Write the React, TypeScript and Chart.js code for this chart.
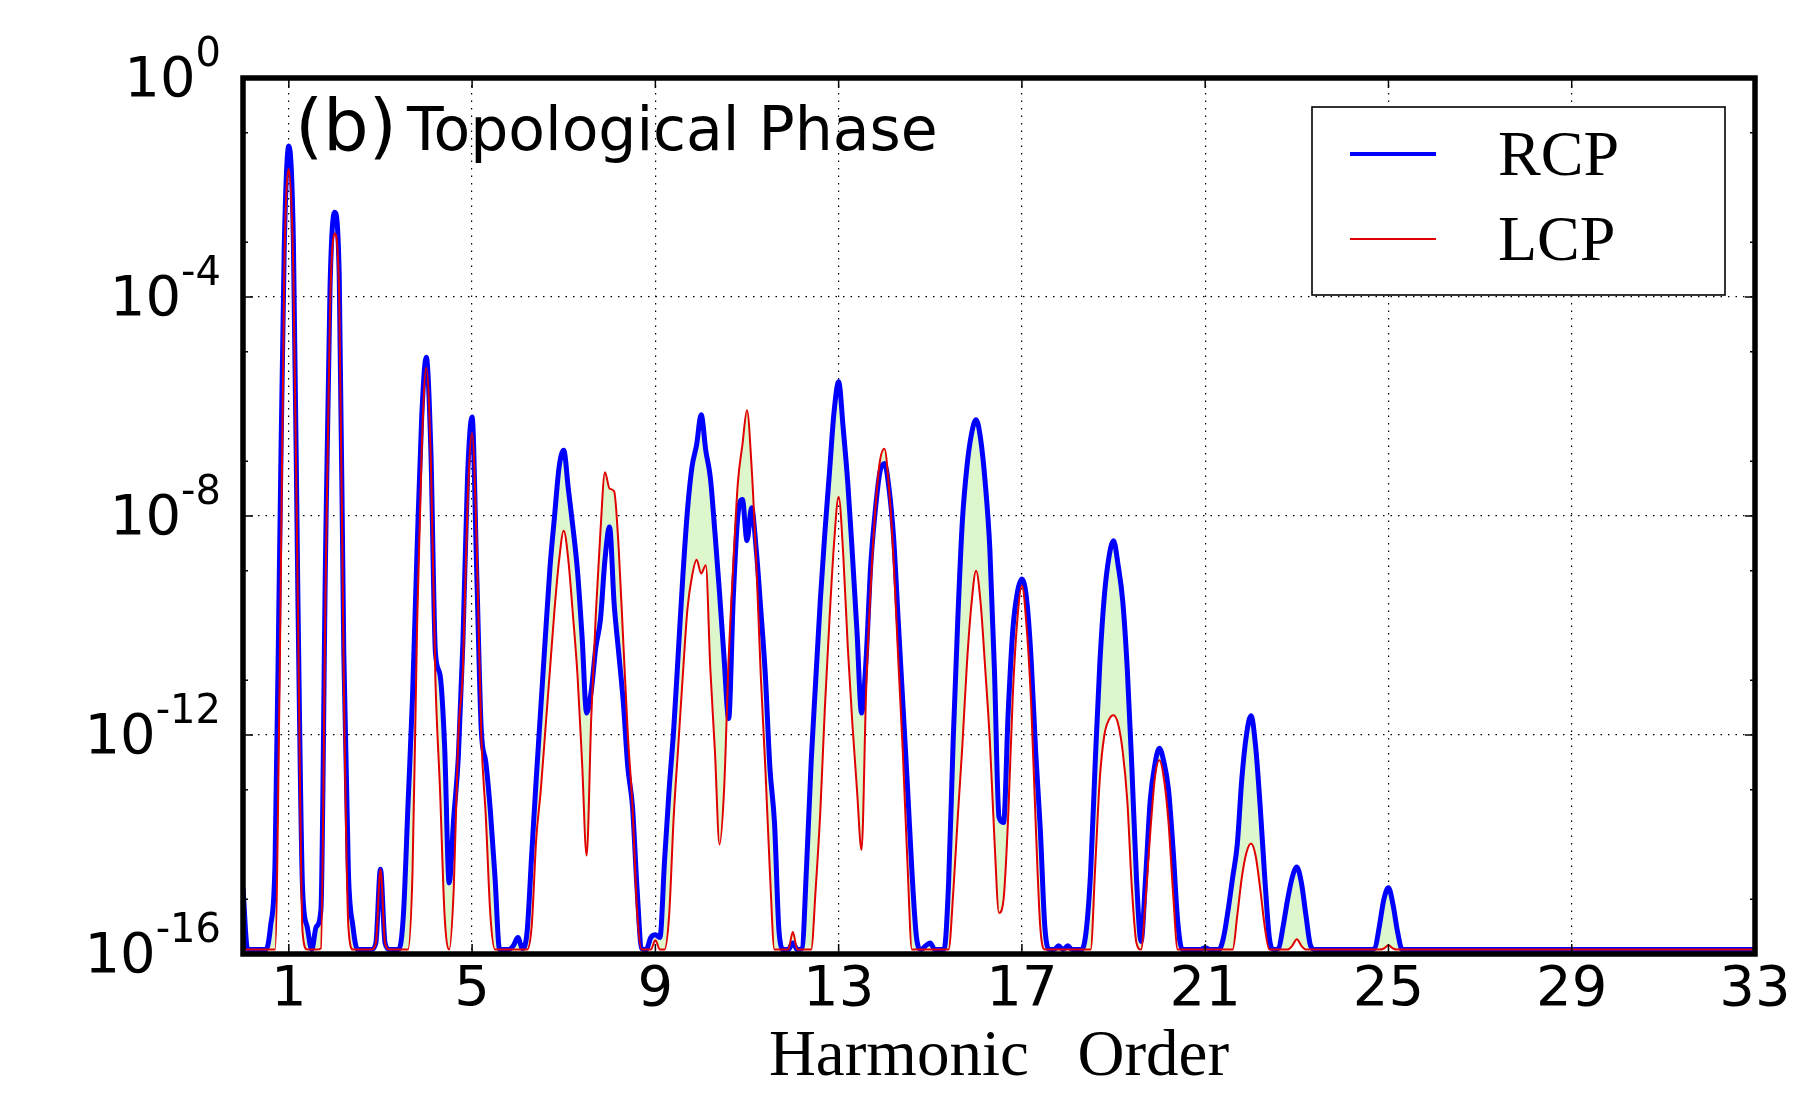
import React, { useEffect, useRef } from "react";
import { Chart, registerables } from "chart.js";

Chart.register(...registerables);

// Harmonic order sampling positions (shared by both series)
const harmonicOrder = [
  0.0, 0.1, 0.2, 0.3, 0.4, 0.5, 0.6, 0.7, 0.8, 0.9,
  1.0, 1.1, 1.2, 1.3, 1.4, 1.5, 1.6, 1.7, 1.8, 1.9,
  2.0, 2.1, 2.2, 2.3, 2.4, 2.5, 2.6, 2.7, 2.8, 2.9,
  3.0, 3.1, 3.2, 3.3, 3.4, 3.5, 3.6, 3.7, 3.8, 3.9,
  4.0, 4.1, 4.2, 4.3, 4.4, 4.5, 4.6, 4.7, 4.8, 4.9,
  5.0, 5.1, 5.2, 5.3, 5.4, 5.5, 5.6, 5.7, 5.8, 5.9,
  6.0, 6.1, 6.2, 6.3, 6.4, 6.5, 6.6, 6.7, 6.8, 6.9,
  7.0, 7.1, 7.2, 7.3, 7.4, 7.5, 7.6, 7.7, 7.8, 7.9,
  8.0, 8.1, 8.2, 8.3, 8.4, 8.5, 8.6, 8.7, 8.8, 8.9,
  9.0, 9.1, 9.2, 9.3, 9.4, 9.5, 9.6, 9.7, 9.8, 9.9,
  10.0, 10.1, 10.2, 10.3, 10.4, 10.5, 10.6, 10.7, 10.8, 10.9,
  11.0, 11.1, 11.2, 11.3, 11.4, 11.5, 11.6, 11.7, 11.8, 11.9,
  12.0, 12.1, 12.2, 12.3, 12.4, 12.5, 12.6, 12.7, 12.8, 12.9,
  13.0, 13.1, 13.2, 13.3, 13.4, 13.5, 13.6, 13.7, 13.8, 13.9,
  14.0, 14.1, 14.2, 14.3, 14.4, 14.5, 14.6, 14.7, 14.8, 14.9,
  15.0, 15.1, 15.2, 15.3, 15.4, 15.5, 15.6, 15.7, 15.8, 15.9,
  16.0, 16.1, 16.2, 16.3, 16.4, 16.5, 16.6, 16.7, 16.8, 16.9,
  17.0, 17.1, 17.2, 17.3, 17.4, 17.5, 17.6, 17.7, 17.8, 17.9,
  18.0, 18.1, 18.2, 18.3, 18.4, 18.5, 18.6, 18.7, 18.8, 18.9,
  19.0, 19.1, 19.2, 19.3, 19.4, 19.5, 19.6, 19.7, 19.8, 19.9,
  20.0, 20.1, 20.2, 20.3, 20.4, 20.5, 20.6, 20.7, 20.8, 20.9,
  21.0, 21.1, 21.2, 21.3, 21.4, 21.5, 21.6, 21.7, 21.8, 21.9,
  22.0, 22.1, 22.2, 22.3, 22.4, 22.5, 22.6, 22.7, 22.8, 22.9,
  23.0, 23.1, 23.2, 23.3, 23.4, 23.5, 23.6, 23.7, 23.8, 23.9,
  24.0, 24.1, 24.2, 24.3, 24.4, 24.5, 24.6, 24.7, 24.8, 24.9,
  25.0, 25.1, 25.2, 25.3, 25.4, 25.5, 25.6, 25.7, 25.8, 25.9,
  26.0, 27.0, 28.0, 29.0, 30.0, 31.0, 32.0, 33.0,
];

// log10 of the RCP harmonic intensity
const rcpLog10 = [
  -14.8, -15.92, -15.92, -15.92, -15.92, -15.92, -15.5, -14.3, -8.6, -3.1,
  -1.24, -3.0, -9.6, -14.8, -15.5, -15.92, -15.5, -15.2, -8.8, -3.8,
  -2.45, -3.6, -10.5, -14.5, -15.5, -15.92, -15.92, -15.92, -15.92, -15.8,
  -14.45, -15.8, -15.92, -15.92, -15.92, -15.3, -13.3, -11.3, -8.6, -6.2,
  -5.1, -6.8, -10.5, -10.9, -12.2, -14.7, -13.5, -12.4, -10.3, -7.3,
  -6.19, -9.0, -11.9, -12.5, -13.4, -14.6, -15.92, -15.92, -15.92, -15.85,
  -15.7, -15.9, -15.6, -14.2, -12.8, -11.5, -10.2, -8.94, -8.0, -7.1,
  -6.8, -7.5, -8.2, -9.0, -10.2, -11.6, -11.2, -10.4, -9.9, -8.8,
  -8.2, -9.6, -10.5, -11.4, -12.6, -13.3, -14.8, -15.9, -15.92, -15.7,
  -15.65, -15.7, -14.3, -13.0, -11.9, -10.5, -9.1, -7.9, -7.1, -6.7,
  -6.15, -6.8, -7.3, -8.3, -9.4, -10.6, -11.7, -9.5, -8.0, -7.7,
  -8.45, -7.85, -8.6, -9.7, -10.9, -12.6, -13.6, -15.6, -15.92, -15.92,
  -15.8, -15.92, -15.9, -14.4, -12.5, -11.0, -9.54, -8.3, -7.2, -6.1,
  -5.55, -6.4, -7.4, -8.7, -10.1, -11.6, -10.6, -8.9, -7.9, -7.2,
  -7.04, -7.5, -8.4, -9.9, -11.4, -12.9, -14.5, -15.7, -15.92, -15.85,
  -15.8, -15.92, -15.92, -15.92, -14.7, -12.1, -9.9, -8.1, -7.1, -6.5,
  -6.24, -6.6, -7.4, -8.6, -10.8, -13.5, -13.6, -11.6, -10.1, -9.4,
  -9.15, -9.5, -10.6, -12.3, -13.7, -15.5, -15.92, -15.92, -15.85, -15.92,
  -15.85, -15.92, -15.92, -15.92, -15.6, -14.5, -12.5, -10.7, -9.45, -8.75,
  -8.45, -8.9, -9.55, -10.8, -12.6, -14.6, -15.77, -14.6, -13.2, -12.55,
  -12.24, -12.5, -13.0, -14.1, -15.4, -15.92, -15.92, -15.92, -15.92, -15.92,
  -15.88, -15.92, -15.92, -15.92, -15.7, -15.2, -14.6, -14.0, -12.8, -12.0,
  -11.65, -12.2, -13.3, -14.6, -15.7, -15.92, -15.9, -15.5, -15.0, -14.6,
  -14.41, -14.7, -15.3, -15.85, -15.92, -15.92, -15.92, -15.92, -15.92, -15.92,
  -15.92, -15.92, -15.92, -15.92, -15.92, -15.92, -15.92, -15.9, -15.5, -15.0,
  -14.79, -15.1, -15.6, -15.92, -15.92, -15.92, -15.92, -15.92, -15.92, -15.92,
  -15.92, -15.92, -15.92, -15.92, -15.92, -15.92, -15.92, -15.92,
];

// log10 of the LCP harmonic intensity
const lcpLog10 = [
  -15.92, -15.92, -15.92, -15.92, -15.92, -15.92, -15.92, -15.92, -11.0, -3.6,
  -1.66, -3.6, -9.8, -15.6, -15.92, -15.92, -15.92, -15.9, -9.5, -4.2,
  -2.84, -4.0, -11.0, -15.5, -15.92, -15.92, -15.92, -15.92, -15.92, -15.8,
  -14.45, -15.8, -15.92, -15.92, -15.92, -15.92, -15.92, -14.5, -10.0, -6.8,
  -5.29, -7.0, -11.0, -13.0, -15.3, -15.92, -14.8, -12.0, -10.8, -7.8,
  -6.49, -8.5, -12.0, -13.5, -15.3, -15.92, -15.92, -15.92, -15.92, -15.92,
  -15.92, -15.92, -15.92, -15.5, -13.9, -13.0, -11.9, -10.8, -9.7, -8.8,
  -8.27, -8.8, -9.8, -10.9, -12.5, -14.2, -11.7, -9.8, -8.3, -7.2,
  -7.5, -7.55, -8.6, -10.3, -12.0, -13.3, -15.2, -15.92, -15.92, -15.92,
  -15.75, -15.92, -15.92, -15.3, -13.5, -12.2, -10.9, -9.7, -9.1, -8.8,
  -9.05, -8.9, -10.8, -12.3, -14.0, -13.0, -10.6, -8.9, -7.4, -6.7,
  -6.07, -7.1, -8.8, -10.9, -12.6, -14.5, -15.92, -15.92, -15.92, -15.92,
  -15.6, -15.92, -15.92, -15.92, -15.92, -14.8, -13.4, -11.5, -9.9, -8.5,
  -7.65, -8.7, -10.4, -11.8, -13.0, -14.1, -11.2, -9.3, -7.9, -7.0,
  -6.77, -7.5, -8.8, -10.6, -12.3, -14.3, -15.92, -15.92, -15.92, -15.92,
  -15.92, -15.92, -15.92, -15.92, -15.92, -14.9, -13.5, -12.2, -10.7, -9.6,
  -9.0, -9.6, -10.8, -12.1, -13.9, -15.25, -15.0, -13.5, -11.3, -9.9,
  -9.27, -10.0, -11.4, -13.6, -15.5, -15.92, -15.92, -15.92, -15.92, -15.92,
  -15.92, -15.92, -15.92, -15.92, -15.92, -15.92, -14.4, -12.8, -12.0, -11.72,
  -11.64, -11.8, -12.3, -13.2, -14.8, -15.8, -15.92, -15.0, -13.8, -12.8,
  -12.46, -12.8, -13.6, -14.9, -15.92, -15.92, -15.92, -15.92, -15.92, -15.92,
  -15.92, -15.92, -15.92, -15.92, -15.92, -15.92, -15.92, -15.3, -14.6, -14.15,
  -13.98, -14.2, -14.8, -15.5, -15.92, -15.92, -15.92, -15.92, -15.92, -15.85,
  -15.73, -15.85, -15.92, -15.92, -15.92, -15.92, -15.92, -15.92, -15.92, -15.92,
  -15.92, -15.92, -15.92, -15.92, -15.92, -15.92, -15.92, -15.92, -15.92, -15.9,
  -15.84, -15.9, -15.92, -15.92, -15.92, -15.92, -15.92, -15.92, -15.92, -15.92,
  -15.92, -15.92, -15.92, -15.92, -15.92, -15.92, -15.92, -15.92,
];

const seriesLabels = ["RCP", "LCP"];
const xTickValues = [1, 5, 9, 13, 17, 21, 25, 29, 33];
const yTickExponents = [0, -4, -8, -12, -16];
const yMinorExponents = [-1, -3, -5, -7, -9, -11, -13, -15];
const panelLabel = "(b)";
const panelTitle = "Topological Phase";
const xAxisTitle = "Harmonic   Order";

const BLUE = "#0000ff";
const RED = "#e00000";
const FILL = "#ddf6cc";

const framePlugin = {
  id: "frameAndText",
  afterDraw(chart: any) {
    const { ctx, chartArea: a, scales } = chart;
    const xs = scales.x;
    const ys = scales.y;
    ctx.save();

    // inward tick marks on all four sides
    ctx.strokeStyle = "#000";
    ctx.lineWidth = 1.5;
    ctx.beginPath();
    for (const t of xTickValues) {
      const px = xs.getPixelForValue(t);
      ctx.moveTo(px, a.bottom);
      ctx.lineTo(px, a.bottom - 10);
      ctx.moveTo(px, a.top);
      ctx.lineTo(px, a.top + 10);
    }
    for (const e of yTickExponents) {
      const py = ys.getPixelForValue(Math.pow(10, e));
      ctx.moveTo(a.left, py);
      ctx.lineTo(a.left + 10, py);
      ctx.moveTo(a.right, py);
      ctx.lineTo(a.right - 10, py);
    }
    for (const e of yMinorExponents) {
      const py = ys.getPixelForValue(Math.pow(10, e));
      ctx.moveTo(a.left, py);
      ctx.lineTo(a.left + 5, py);
      ctx.moveTo(a.right, py);
      ctx.lineTo(a.right - 5, py);
    }
    ctx.stroke();

    // thick frame
    ctx.lineWidth = 5.5;
    ctx.strokeRect(a.left, a.top, a.right - a.left, a.bottom - a.top);

    // y tick labels with superscript exponents
    ctx.fillStyle = "#000";
    ctx.textAlign = "right";
    ctx.textBaseline = "alphabetic";
    const labelRight = a.left - 22;
    for (const e of yTickExponents) {
      const py = ys.getPixelForValue(Math.pow(10, e));
      const exp = e === 0 ? "0" : "-" + String(-e);
      ctx.font = "40px 'DejaVu Sans'";
      const ew = ctx.measureText(exp).width;
      ctx.fillText(exp, labelRight, py - 12);
      ctx.font = "56px 'DejaVu Sans'";
      ctx.fillText("10", labelRight - ew, py + 18);
    }

    // panel label and title
    ctx.textAlign = "left";
    ctx.font = "72px 'DejaVu Sans'";
    ctx.fillText(panelLabel, a.left + 52, a.top + 72);
    ctx.font = "60px 'DejaVu Sans'";
    ctx.fillText(panelTitle, a.left + 164, a.top + 72);

    // legend
    const lx = a.right - 443;
    const ly = a.top + 29;
    ctx.fillStyle = "#fff";
    ctx.fillRect(lx, ly, 413, 188);
    ctx.strokeStyle = "#000";
    ctx.lineWidth = 1.6;
    ctx.strokeRect(lx, ly, 413, 188);
    const ds = chart.data.datasets;
    const rows = [
      { y: ly + 47, color: ds[0].borderColor, w: 4, text: seriesLabels[0] },
      { y: ly + 132, color: ds[1].borderColor, w: 2, text: seriesLabels[1] },
    ];
    ctx.font = "64px 'Liberation Serif'";
    ctx.fillStyle = "#000";
    for (const r of rows) {
      ctx.strokeStyle = r.color;
      ctx.lineWidth = r.w;
      ctx.beginPath();
      ctx.moveTo(lx + 38, r.y);
      ctx.lineTo(lx + 124, r.y);
      ctx.stroke();
      ctx.fillText(r.text, lx + 186, r.y + 21);
    }

    ctx.restore();
  },
};

export default function App() {
  const canvasRef = useRef<HTMLCanvasElement | null>(null);

  useEffect(() => {
    const canvas = canvasRef.current;
    if (!canvas) return;
    const rcpData = harmonicOrder.map((x, i) => ({ x, y: Math.pow(10, rcpLog10[i]) }));
    const lcpData = harmonicOrder.map((x, i) => ({ x, y: Math.pow(10, lcpLog10[i]) }));

    const chart = new Chart(canvas, {
      type: "line",
      data: {
        datasets: [
          {
            label: seriesLabels[0],
            data: rcpData,
            borderColor: BLUE,
            borderWidth: 5,
            pointRadius: 0,
            cubicInterpolationMode: "monotone",
            borderJoinStyle: "round",
            fill: { target: 1, above: FILL, below: FILL },
            order: 1,
          },
          {
            label: seriesLabels[1],
            data: lcpData,
            borderColor: RED,
            borderWidth: 2,
            pointRadius: 0,
            cubicInterpolationMode: "monotone",
            borderJoinStyle: "round",
            fill: false,
            order: 0,
          },
        ],
      },
      options: {
        animation: false,
        responsive: false,
        devicePixelRatio: 1,
        parsing: false as any,
        normalized: true,
        layout: { padding: { left: 0, top: 78, right: 45, bottom: 0 } },
        plugins: {
          legend: { display: false },
          tooltip: { enabled: false },
        },
        scales: {
          x: {
            type: "linear",
            min: 0,
            max: 33,
            afterBuildTicks: (s: any) => {
              s.ticks = xTickValues.map((v) => ({ value: v }));
            },
            afterFit: (s: any) => {
              s.height = 157;
            },
            grid: { color: "#000", lineWidth: 1.2, drawTicks: false },
            border: { display: false, dash: [1.5, 6] },
            ticks: {
              autoSkip: false,
              maxRotation: 0,
              padding: 3,
              color: "#000",
              font: { family: "'DejaVu Sans'", size: 56 },
              callback: (v: any) => String(v),
            },
            title: {
              display: true,
              text: xAxisTitle,
              color: "#000",
              font: { family: "'Liberation Serif'", size: 65 },
              padding: { top: 0, bottom: 14 },
            },
          },
          y: {
            type: "logarithmic",
            min: 1e-16,
            max: 1,
            afterBuildTicks: (s: any) => {
              s.ticks = yTickExponents.map((e) => ({ value: Math.pow(10, e) }));
            },
            afterFit: (s: any) => {
              s.width = 243;
            },
            grid: { color: "#000", lineWidth: 1.2, drawTicks: false },
            border: { display: false, dash: [1.5, 6] },
            ticks: { display: false },
          },
        },
      },
      plugins: [framePlugin],
    } as any);

    return () => chart.destroy();
  }, []);

  return (
    <div
      style={{
        position: "fixed",
        left: 0,
        top: 0,
        width: 1800,
        height: 1111,
        background: "#fff",
      }}
    >
      <canvas
        ref={canvasRef}
        width={1800}
        height={1111}
        style={{ display: "block", width: 1800, height: 1111 }}
      />
    </div>
  );
}
